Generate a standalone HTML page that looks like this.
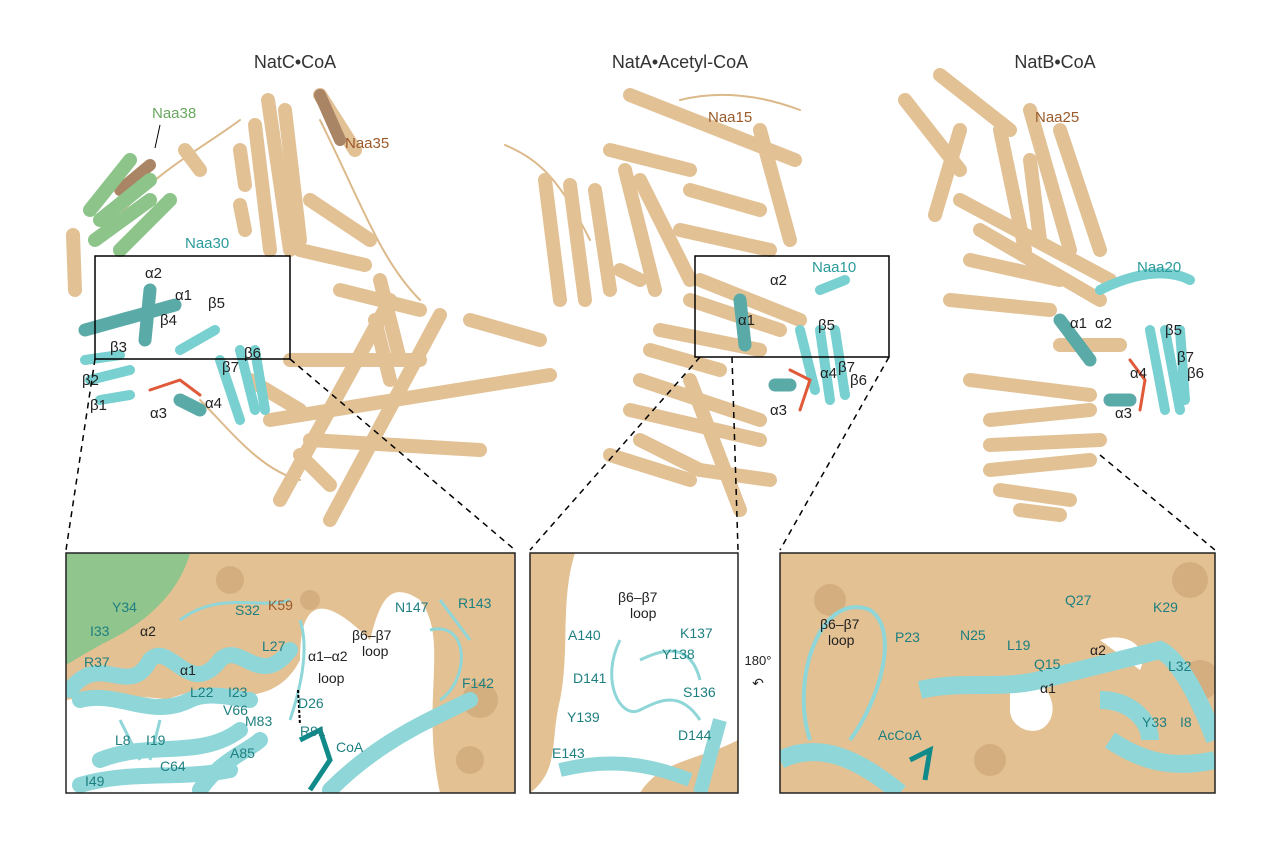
<!DOCTYPE html>
<html><head><meta charset="utf-8"><style>
html,body{margin:0;padding:0;background:#fff;}
svg{display:block;font-family:"Liberation Sans",sans-serif;}
</style></head><body>
<svg width="1280" height="854" viewBox="0 0 1280 854" xmlns="http://www.w3.org/2000/svg">
<defs>
<clipPath id="c1"><rect x="66" y="553" width="449" height="240"/></clipPath>
<clipPath id="c2"><rect x="530" y="553" width="208" height="240"/></clipPath>
<clipPath id="c3"><rect x="780" y="553" width="435" height="240"/></clipPath>
</defs>
<g font-size="18" fill="#333" text-anchor="middle">
<text x="295" y="68">NatC•CoA</text>
<text x="680" y="68">NatA•Acetyl-CoA</text>
<text x="1055" y="68">NatB•CoA</text>
</g>

<!-- NatC structure -->
<g stroke-linecap="round" fill="none">
<path d="M110,230 C140,180 200,150 240,120 M200,400 C230,430 260,470 300,480 M320,120 C360,200 380,260 420,300" stroke="#dcb98a" stroke-width="2"/>
<g stroke="#e2c195" stroke-width="14">
<line x1="268" y1="100" x2="290" y2="250"/><line x1="285" y1="110" x2="300" y2="240"/>
<line x1="255" y1="125" x2="270" y2="250"/><line x1="320" y1="95" x2="355" y2="150"/>
<line x1="310" y1="200" x2="370" y2="240"/><line x1="300" y1="250" x2="365" y2="265"/>
<line x1="340" y1="290" x2="420" y2="310"/><line x1="380" y1="280" x2="400" y2="360"/>
<line x1="470" y1="320" x2="540" y2="340"/><line x1="290" y1="360" x2="420" y2="360"/>
<line x1="270" y1="420" x2="550" y2="375"/><line x1="280" y1="500" x2="390" y2="300"/>
<line x1="330" y1="520" x2="440" y2="315"/><line x1="310" y1="440" x2="480" y2="450"/>
<line x1="73" y1="235" x2="75" y2="290"/><line x1="185" y1="150" x2="200" y2="170"/>
<line x1="240" y1="150" x2="245" y2="185"/><line x1="240" y1="205" x2="245" y2="230"/>
<line x1="375" y1="320" x2="390" y2="380"/><line x1="250" y1="380" x2="300" y2="410"/>
<line x1="300" y1="455" x2="330" y2="485"/>
</g>
<g stroke="#a98565" stroke-width="12"><line x1="320" y1="95" x2="340" y2="140"/><line x1="120" y1="190" x2="150" y2="165"/></g>
<g stroke="#8cc48a" stroke-width="14"><path d="M100,220 L150,180 M95,240 L150,200 M120,250 L170,200 M90,210 L130,160"/></g>
<g stroke="#5aaaa8" stroke-width="13"><line x1="85" y1="330" x2="175" y2="305"/><line x1="150" y1="290" x2="145" y2="340"/><line x1="180" y1="400" x2="200" y2="410"/></g>
<g stroke="#78d0d0" stroke-width="10"><path d="M85,360 L120,355 M90,380 L130,370 M100,400 L130,395 M180,350 L215,330 M220,360 L240,420 M240,350 L255,410 M255,350 L265,410"/></g>
<path d="M150,390 L180,380 L200,395" stroke="#e05a3a" stroke-width="3"/>
</g>
<g font-size="15">
<text x="152" y="118" fill="#6aa860">Naa38</text><line x1="160" y1="125" x2="155" y2="148" stroke="#000"/>
<text x="345" y="148" fill="#9a5a2a">Naa35</text>
<text x="185" y="248" fill="#2a9a9a">Naa30</text>
<g fill="#222"><text x="145" y="278">α2</text><text x="175" y="300">α1</text><text x="160" y="325">β4</text><text x="208" y="308">β5</text><text x="110" y="352">β3</text><text x="222" y="372">β7</text><text x="244" y="358">β6</text><text x="82" y="385">β2</text><text x="90" y="410">β1</text><text x="150" y="418">α3</text><text x="205" y="408">α4</text></g>
</g>
<rect x="95" y="256" width="195" height="103" fill="none" stroke="#000" stroke-width="1.5"/>

<!-- NatA -->
<g stroke-linecap="round" fill="none">
<path d="M505,145 C540,160 560,180 590,240 M680,100 C720,90 760,95 800,110" stroke="#dcb98a" stroke-width="2"/>
<g stroke="#e2c195" stroke-width="14">
<line x1="630" y1="95" x2="795" y2="160"/><line x1="610" y1="150" x2="690" y2="170"/>
<line x1="625" y1="170" x2="655" y2="290"/><line x1="640" y1="180" x2="690" y2="280"/>
<line x1="545" y1="180" x2="560" y2="300"/><line x1="570" y1="185" x2="585" y2="300"/>
<line x1="595" y1="190" x2="610" y2="290"/><line x1="620" y1="270" x2="640" y2="280"/>
<line x1="690" y1="190" x2="760" y2="210"/><line x1="680" y1="230" x2="770" y2="250"/>
<line x1="760" y1="130" x2="790" y2="240"/><line x1="700" y1="280" x2="800" y2="320"/>
<line x1="690" y1="300" x2="780" y2="330"/><line x1="660" y1="330" x2="760" y2="350"/>
<line x1="650" y1="350" x2="720" y2="370"/><line x1="640" y1="380" x2="760" y2="420"/>
<line x1="630" y1="410" x2="760" y2="440"/><line x1="640" y1="440" x2="700" y2="470"/>
<line x1="690" y1="380" x2="740" y2="510"/><line x1="700" y1="470" x2="770" y2="480"/>
<line x1="610" y1="455" x2="690" y2="480"/>
</g>
<g stroke="#5aaaa8" stroke-width="13"><line x1="740" y1="300" x2="745" y2="345"/><line x1="775" y1="385" x2="790" y2="385"/></g>
<g stroke="#78d0d0" stroke-width="10"><path d="M800,330 L815,390 M820,330 L830,400 M835,330 L845,395 M820,290 L845,280"/></g>
<path d="M790,370 L810,380 L800,410" stroke="#e05a3a" stroke-width="3"/>
</g>
<g font-size="15">
<text x="708" y="122" fill="#9a5a2a">Naa15</text>
<text x="812" y="272" fill="#2a9a9a">Naa10</text>
<g fill="#222"><text x="770" y="285">α2</text><text x="738" y="325">α1</text><text x="818" y="330">β5</text><text x="820" y="378">α4</text><text x="838" y="372">β7</text><text x="850" y="385">β6</text><text x="770" y="415">α3</text></g>
</g>
<rect x="695" y="256" width="194" height="101" fill="none" stroke="#000" stroke-width="1.5"/>

<!-- NatB -->
<g stroke-linecap="round" fill="none">
<g stroke="#e2c195" stroke-width="14">
<line x1="905" y1="100" x2="960" y2="170"/><line x1="940" y1="75" x2="1010" y2="130"/>
<line x1="960" y1="130" x2="935" y2="215"/><line x1="1000" y1="130" x2="1025" y2="250"/>
<line x1="1030" y1="110" x2="1070" y2="250"/><line x1="1060" y1="130" x2="1100" y2="250"/>
<line x1="960" y1="200" x2="1110" y2="280"/><line x1="980" y1="230" x2="1100" y2="300"/>
<line x1="970" y1="260" x2="1060" y2="280"/><line x1="950" y1="300" x2="1050" y2="310"/>
<line x1="1060" y1="345" x2="1120" y2="345"/><line x1="970" y1="380" x2="1090" y2="395"/>
<line x1="990" y1="420" x2="1090" y2="410"/><line x1="990" y1="445" x2="1100" y2="440"/>
<line x1="990" y1="470" x2="1090" y2="460"/><line x1="1000" y1="490" x2="1070" y2="500"/>
<line x1="1020" y1="510" x2="1060" y2="515"/><line x1="1030" y1="160" x2="1040" y2="240"/>
</g>
<g stroke="#78d0d0" stroke-width="10"><path d="M1150,330 L1165,410 M1165,330 L1180,410 M1180,330 L1185,400 M1100,290 C1140,270 1170,270 1190,280"/></g>
<g stroke="#5aaaa8" stroke-width="13"><line x1="1060" y1="320" x2="1090" y2="360"/><line x1="1110" y1="400" x2="1130" y2="400"/></g>
<path d="M1130,360 L1145,380 L1140,410" stroke="#e05a3a" stroke-width="3"/>
</g>
<g font-size="15">
<text x="1035" y="122" fill="#9a5a2a">Naa25</text>
<text x="1137" y="272" fill="#2a9a9a">Naa20</text>
<g fill="#222"><text x="1070" y="328">α1</text><text x="1095" y="328">α2</text><text x="1165" y="335">β5</text><text x="1130" y="378">α4</text><text x="1177" y="362">β7</text><text x="1187" y="378">β6</text><text x="1115" y="418">α3</text></g>
</g>

<!-- dashed connectors -->
<g stroke="#000" stroke-width="1.5" stroke-dasharray="6,5">
<line x1="95" y1="359" x2="66" y2="550"/><line x1="290" y1="359" x2="515" y2="550"/>
<line x1="700" y1="357" x2="530" y2="550"/><line x1="732" y1="357" x2="738" y2="550"/>
<line x1="889" y1="357" x2="780" y2="550"/>
<line x1="1100" y1="455" x2="1215" y2="550"/>
</g>

<!-- Panel 1 -->
<g clip-path="url(#c1)">
<rect x="66" y="553" width="449" height="240" fill="#fff"/>
<path d="M66,553 H515 V793 H440 C420,700 450,640 420,600 C390,580 380,600 370,640 C330,600 300,590 300,660 C280,700 240,700 200,690 C150,700 100,730 66,760 Z" fill="#e3c193"/>
<path d="M66,553 H190 C180,590 150,620 110,640 C90,650 75,660 66,665 Z" fill="#90c58e"/>
<g fill="#c9a271" opacity="0.6"><circle cx="230" cy="580" r="14"/><circle cx="480" cy="700" r="18"/><circle cx="470" cy="760" r="14"/><circle cx="310" cy="600" r="10"/></g>
<path d="M66,700 C120,690 200,700 260,720 L280,793 H66 Z" fill="#fff"/>
<g stroke="#8fd6d8" stroke-width="16" fill="none" stroke-linecap="round">
<path d="M70,690 C100,650 130,700 150,660 C170,640 190,700 220,660 C240,640 260,690 290,650"/>
<path d="M80,700 C120,690 150,720 190,700 C210,690 240,700 250,700"/>
<path d="M100,760 C150,740 200,760 240,730"/>
<path d="M80,785 C130,770 180,780 230,770"/>
<path d="M330,790 C380,740 430,720 470,700"/>
<path d="M200,790 C220,760 250,750 260,740"/>
</g>
<g stroke="#8fd6d8" stroke-width="3" fill="none">
<path d="M180,620 C220,590 260,610 290,600 M300,620 C310,650 300,690 290,720 M430,630 C470,620 470,680 440,700 M440,600 L470,640 M120,720 L140,760 M160,720 L150,760"/>
</g>
<path d="M300,740 L320,730 L330,760 L310,790" stroke="#118a8a" stroke-width="5" fill="none"/>
<line x1="298" y1="690" x2="300" y2="725" stroke="#000" stroke-width="2" stroke-dasharray="3,2"/>
</g>
<rect x="66" y="553" width="449" height="240" fill="none" stroke="#222" stroke-width="1.5"/>
<g font-size="14" fill="#1e7f80">
<text x="112" y="612">Y34</text><text x="235" y="615" >S32</text><text x="90" y="636">I33</text><text x="84" y="667">R37</text><text x="140" y="636" fill="#222">α2</text><text x="180" y="675" fill="#222">α1</text><text x="190" y="697">L22</text><text x="228" y="697">I23</text><text x="262" y="651">L27</text><text x="308" y="661" fill="#222">α1–α2</text><text x="318" y="683" fill="#222">loop</text><text x="298" y="708">D26</text><text x="245" y="726">M83</text><text x="223" y="715">V66</text><text x="300" y="736">R91</text><text x="336" y="752">CoA</text><text x="115" y="745">L8</text><text x="146" y="745">I19</text><text x="160" y="771">C64</text><text x="230" y="758">A85</text><text x="85" y="786">I49</text><text x="268" y="610" fill="#9a5a2a">K59</text><text x="395" y="612">N147</text><text x="458" y="608">R143</text><text x="352" y="640" fill="#222">β6–β7</text><text x="362" y="656" fill="#222">loop</text><text x="462" y="688">F142</text>
</g>

<!-- Panel 2 -->
<g clip-path="url(#c2)">
<rect x="530" y="553" width="208" height="240" fill="#fff"/>
<path d="M530,553 H575 C560,600 570,650 560,700 C550,740 560,770 530,793 Z" fill="#e3c193"/>
<path d="M640,793 C660,760 700,760 738,740 V793 Z" fill="#e3c193"/>
<g stroke="#8fd6d8" stroke-width="14" fill="none"><path d="M560,770 C600,760 640,760 690,780 M700,793 L720,720"/></g>
<g stroke="#8fd6d8" stroke-width="3" fill="none"><path d="M620,640 C600,680 620,720 640,710 C660,700 680,690 700,720 M640,660 C660,650 690,640 700,680"/></g>
</g>
<rect x="530" y="553" width="208" height="240" fill="none" stroke="#222" stroke-width="1.5"/>
<g font-size="14" fill="#1e7f80">
<text x="618" y="602" fill="#222">β6–β7</text><text x="630" y="618" fill="#222">loop</text><text x="568" y="640">A140</text><text x="680" y="638">K137</text><text x="662" y="659">Y138</text><text x="573" y="683">D141</text><text x="683" y="697">S136</text><text x="567" y="722">Y139</text><text x="678" y="740">D144</text><text x="552" y="758">E143</text>
</g>
<text x="758" y="665" font-size="13" fill="#222" text-anchor="middle">180°</text>
<text x="758" y="688" font-size="14" fill="#222" text-anchor="middle">↶</text>

<!-- Panel 3 -->
<g clip-path="url(#c3)">
<rect x="780" y="553" width="435" height="240" fill="#e3c193"/>
<g fill="#c9a271" opacity="0.6"><circle cx="1190" cy="580" r="18"/><circle cx="1200" cy="680" r="20"/><circle cx="830" cy="600" r="16"/><circle cx="990" cy="760" r="16"/></g>
<path d="M1010,680 C1040,670 1060,700 1050,720 C1040,740 1010,730 1010,710 Z" fill="#fff"/>
<path d="M1100,640 C1130,630 1150,650 1140,670 Z" fill="#fff"/>
<g stroke="#8fd6d8" stroke-width="18" fill="none">
<path d="M920,690 C960,680 1000,690 1040,680 C1080,670 1120,660 1160,650 C1180,660 1200,700 1215,740"/>
<path d="M780,760 C820,740 860,760 900,793"/>
<path d="M1110,740 C1140,760 1170,770 1215,760"/>
<path d="M1100,700 C1130,700 1150,720 1150,740"/>
</g>
<g stroke="#8fd6d8" stroke-width="4" fill="none"><path d="M810,740 C790,680 820,590 870,610 C900,630 880,700 850,740"/></g>
<path d="M910,760 L930,750 L925,780" stroke="#118a8a" stroke-width="5" fill="none"/>
</g>
<rect x="780" y="553" width="435" height="240" fill="none" stroke="#222" stroke-width="1.5"/>
<g font-size="14" fill="#1e7f80">
<text x="820" y="629" fill="#222">β6–β7</text><text x="828" y="645" fill="#222">loop</text><text x="895" y="642">P23</text><text x="960" y="640">N25</text><text x="1007" y="650">L19</text><text x="1065" y="605">Q27</text><text x="1153" y="612">K29</text><text x="1034" y="669">Q15</text><text x="1090" y="655" fill="#222">α2</text><text x="1040" y="693" fill="#222">α1</text><text x="1168" y="671">L32</text><text x="1142" y="727">Y33</text><text x="1180" y="727">I8</text><text x="878" y="740">AcCoA</text>
</g>
</svg>
</body></html>
